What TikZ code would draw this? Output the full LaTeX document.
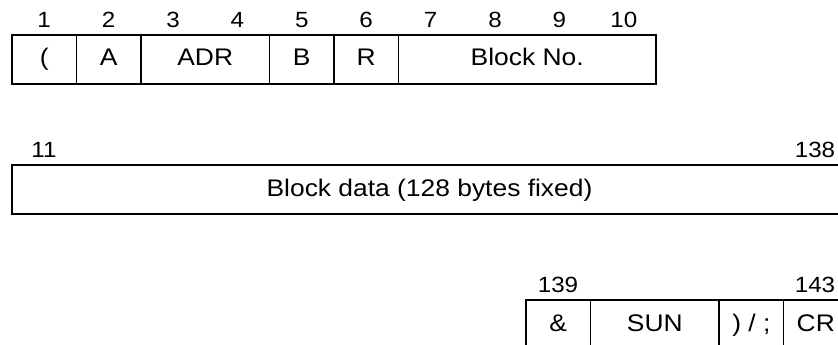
\documentclass[tikz,border=0pt]{standalone}
\usepackage{fontspec}
\setmainfont[FakeStretch=1.1]{Liberation Sans}
\usetikzlibrary{positioning}

\begin{document}
\begin{tikzpicture}[x=1pt, y=-1pt,
			zelle/.style={draw, line width=1.6pt, minimum height=49pt, inner sep=0pt, outer sep=0pt,
				text height=17pt, text depth=4pt, font=\fontsize{24}{28}\selectfont},
			nummer/.style={inner sep=0pt, font=\fontsize{22}{26}\selectfont}]
			%Bildbereich festlegen
			\useasboundingbox (0,0) rectangle (838,345);
			\clip (0,0) rectangle (838,345);
			% Zeile 1
			\node[zelle, minimum width=64.4pt, anchor=north west] (klammer) at (12,35) {(};
			\node[zelle, minimum width=64.4pt, right=0pt of klammer] (a) {A};
			\node[zelle, minimum width=128.8pt, right=0pt of a] (adr) {ADR};
			\node[zelle, minimum width=64.4pt, right=0pt of adr] (b) {B};
			\node[zelle, minimum width=64.4pt, right=0pt of b] (r) {R};
			\node[zelle, minimum width=257.6pt, right=0pt of r] (blockno) {Block No.};
			% Bytenummern Zeile 1
			\foreach \i in {1,...,10} \node[nummer] (n\i) at ({12+(\i-0.5)*64.4}, 20) {\i};
			% Zeile 2
			\node[zelle, minimum width=835pt, anchor=north west] (daten) at (12,165) {Block data (128 bytes fixed)};
			\node[nummer] (n11) at (44,150) {11};
			\node[nummer] (n138) at (815,150) {138};
			% Zeile 3
			\node[zelle, minimum width=64.4pt, anchor=north west] (und) at (526,300) {\&};
			\node[zelle, minimum width=128.8pt, right=0pt of und] (sun) {SUN};
			\node[zelle, minimum width=64.4pt, right=0pt of sun] (ende) {) / ;};
			\node[zelle, minimum width=64.4pt, right=0pt of ende] (cr) {CR};
			% Bytenummern Zeile 3
			\node[nummer] (n139) at (558,285) {139};
			\node[nummer] (n143) at (815,285) {143};
		\end{tikzpicture}
\end{document}
